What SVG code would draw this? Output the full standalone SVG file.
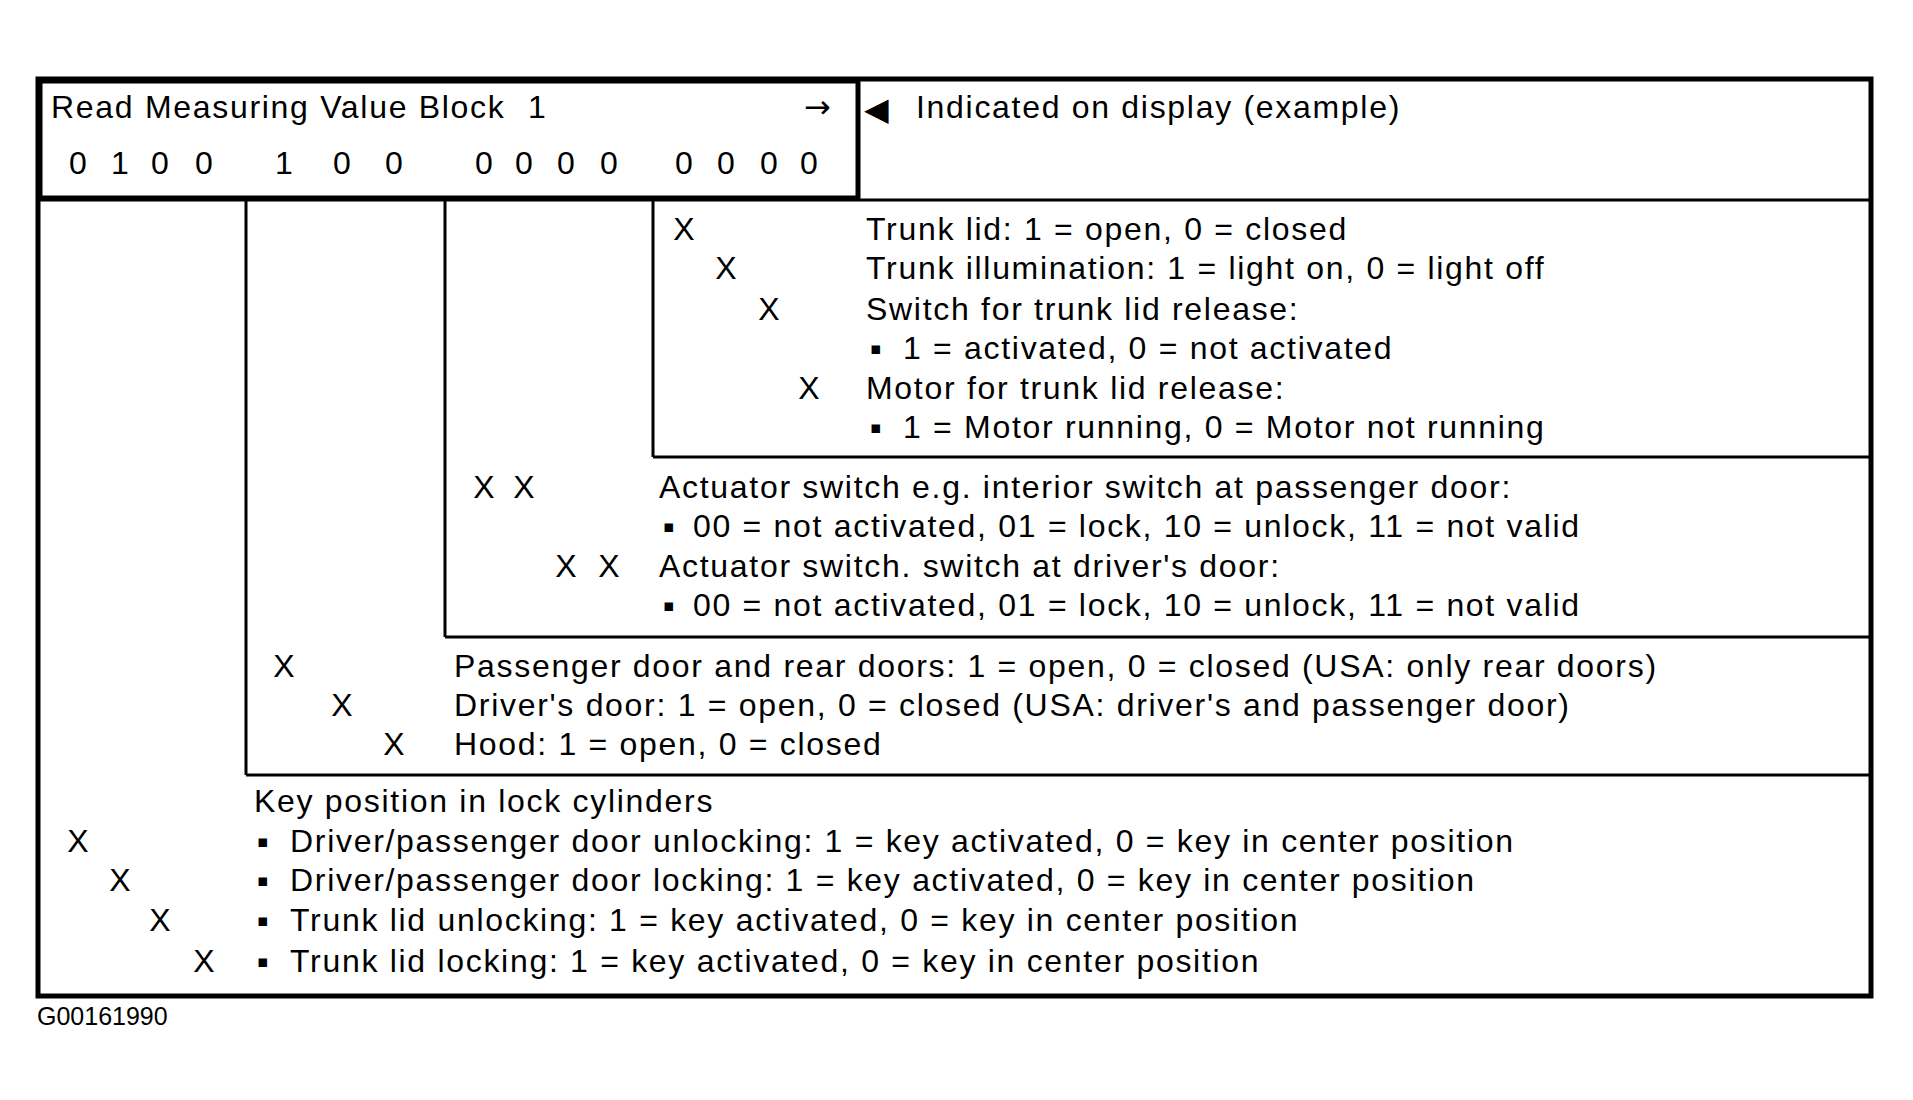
<svg xmlns="http://www.w3.org/2000/svg" width="1913" height="1100" viewBox="0 0 1913 1100">
<style>
text{font-family:"Liberation Sans",Arial,sans-serif;font-size:32px;fill:#000;letter-spacing:1.7px}
.c{text-anchor:middle;letter-spacing:0}
.sym{font-family:"DejaVu Sans",sans-serif;letter-spacing:0}
.b{font-family:"DejaVu Sans",sans-serif;letter-spacing:0;font-size:17px}
.ln{stroke:#000;stroke-width:3;fill:none}
.bd{stroke:#000;stroke-width:5;fill:none}
.code{font-size:25px;letter-spacing:0}
</style>
<rect width="1913" height="1100" fill="#fff"/>
<g id="connectors">
<rect class="bd" x="38" y="79" width="1833" height="917"/>
<rect class="bd" x="40" y="81" width="818" height="117"/>
<line class="ln" x1="38" y1="200" x2="1871" y2="200"/>
<line class="ln" x1="246" y1="200" x2="246" y2="775"/>
<line class="ln" x1="246" y1="775" x2="1871" y2="775"/>
<line class="ln" x1="445" y1="200" x2="445" y2="637"/>
<line class="ln" x1="445" y1="637" x2="1871" y2="637"/>
<line class="ln" x1="653" y1="200" x2="653" y2="457"/>
<line class="ln" x1="653" y1="457" x2="1871" y2="457"/>
</g>
<g id="header">
<text x="51" y="118">Read Measuring Value Block<tspan x="528">1</tspan></text>
<text class="sym" x="804" y="118" font-size="38">→</text>
<g id="digits">
<text class="c" x="78" y="174">0</text><text class="c" x="120" y="174">1</text><text class="c" x="160" y="174">0</text><text class="c" x="204" y="174">0</text>
<text class="c" x="284" y="174">1</text><text class="c" x="342" y="174">0</text><text class="c" x="394" y="174">0</text>
<text class="c" x="484" y="174">0</text><text class="c" x="524" y="174">0</text><text class="c" x="566" y="174">0</text><text class="c" x="609" y="174">0</text>
<text class="c" x="684" y="174">0</text><text class="c" x="726" y="174">0</text><text class="c" x="769" y="174">0</text><text class="c" x="809" y="174">0</text>
</g>
</g>
<g id="display-note">
<text class="sym" x="864" y="120" font-size="36">◀</text>
<text x="916" y="118">Indicated on display (example)</text>
</g>
<g id="trunk-section">
<text class="c" x="684" y="240">X</text>
<text x="866" y="240">Trunk lid: 1 = open, 0 = closed</text>
<text class="c" x="726" y="279">X</text>
<text x="866" y="279">Trunk illumination: 1 = light on, 0 = light off</text>
<text class="c" x="769" y="320">X</text>
<text x="866" y="320">Switch for trunk lid release:</text>
<text class="b" x="870" y="354">▪</text>
<text x="903" y="359">1 = activated, 0 = not activated</text>
<text class="c" x="809" y="399">X</text>
<text x="866" y="399">Motor for trunk lid release:</text>
<text class="b" x="870" y="433">▪</text>
<text x="903" y="438">1 = Motor running, 0 = Motor not running</text>
</g>
<g id="actuator-section">
<text class="c" x="484" y="498">X</text><text class="c" x="524" y="498">X</text>
<text x="659" y="498">Actuator switch e.g. interior switch at passenger door:</text>
<text class="b" x="663" y="532">▪</text>
<text x="693" y="537">00 = not activated, 01 = lock, 10 = unlock, 11 = not valid</text>
<text class="c" x="566" y="577">X</text><text class="c" x="609" y="577">X</text>
<text x="659" y="577">Actuator switch. switch at driver's door:</text>
<text class="b" x="663" y="611">▪</text>
<text x="693" y="616">00 = not activated, 01 = lock, 10 = unlock, 11 = not valid</text>
</g>
<g id="door-section">
<text class="c" x="284" y="677">X</text>
<text x="454" y="677">Passenger door and rear doors: 1 = open, 0 = closed (USA: only rear doors)</text>
<text class="c" x="342" y="716">X</text>
<text x="454" y="716">Driver's door: 1 = open, 0 = closed (USA: driver's and passenger door)</text>
<text class="c" x="394" y="755">X</text>
<text x="454" y="755">Hood: 1 = open, 0 = closed</text>
</g>
<g id="key-section">
<text x="254" y="812">Key position in lock cylinders</text>
<text class="c" x="78" y="852">X</text>
<text class="b" x="257" y="847">▪</text>
<text x="290" y="852">Driver/passenger door unlocking: 1 = key activated, 0 = key in center position</text>
<text class="c" x="120" y="891">X</text>
<text class="b" x="257" y="886">▪</text>
<text x="290" y="891">Driver/passenger door locking: 1 = key activated, 0 = key in center position</text>
<text class="c" x="160" y="931">X</text>
<text class="b" x="257" y="926">▪</text>
<text x="290" y="931">Trunk lid unlocking: 1 = key activated, 0 = key in center position</text>
<text class="c" x="204" y="972">X</text>
<text class="b" x="257" y="967">▪</text>
<text x="290" y="972">Trunk lid locking: 1 = key activated, 0 = key in center position</text>
</g>
<g id="figure-code">
<text class="code" x="37" y="1025">G00161990</text>
</g>
</svg>
